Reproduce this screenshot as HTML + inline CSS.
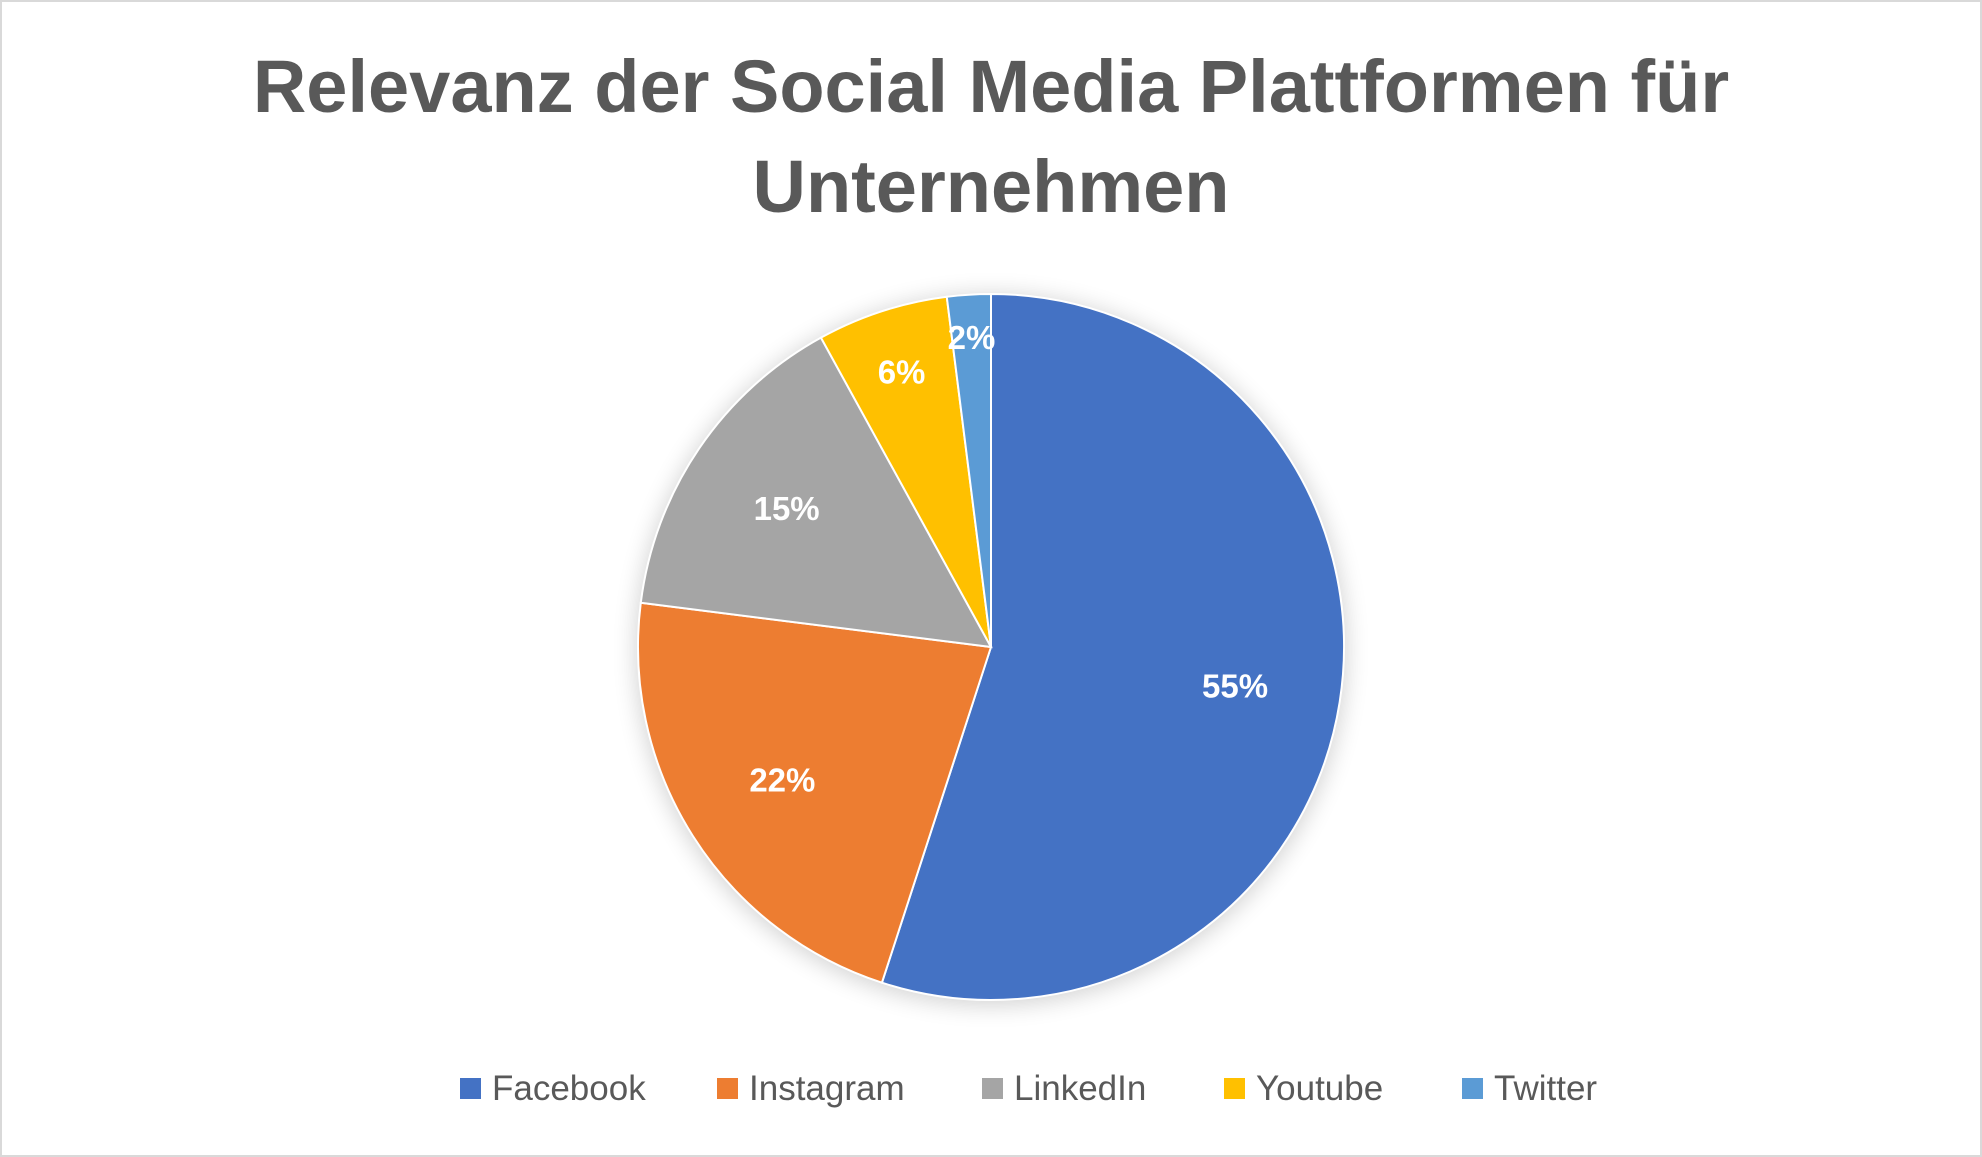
<!DOCTYPE html>
<html><head><meta charset="utf-8"><style>
html,body{margin:0;padding:0;background:#fff;}
#wrap{position:relative;width:1982px;height:1157px;overflow:hidden;}
</style></head><body>
<div id="wrap">
<svg id="chart" width="1982" height="1157" xmlns="http://www.w3.org/2000/svg">
<defs>
<filter id="sh" x="-20%" y="-20%" width="140%" height="140%"><feGaussianBlur stdDeviation="12"/></filter>
</defs>
<rect x="1" y="1" width="1980" height="1155" fill="#fff" stroke="#d9d9d9" stroke-width="2"/>
<text x="991" y="112" text-anchor="middle" font-family="'Liberation Sans',sans-serif" font-weight="bold" font-size="74" fill="#595959">Relevanz der Social Media Plattformen für</text>
<text x="991" y="212" text-anchor="middle" font-family="'Liberation Sans',sans-serif" font-weight="bold" font-size="74" fill="#595959">Unternehmen</text>
<circle cx="991" cy="650" r="355" fill="#000" opacity="0.18" filter="url(#sh)"/>
<g id="slices"></g>
<g id="labels"></g>
<g id="legend"></g>
</svg>
</div>
<script>
const categories = ["Facebook","Instagram","LinkedIn","Youtube","Twitter"];
const values = [55,22,15,6,2];
const valueLabels = ["55%","22%","15%","6%","2%"];
const colors = ["#4472C4","#ED7D31","#A5A5A5","#FFC000","#5B9BD5"];
const NS="http://www.w3.org/2000/svg";
const cx=991, cy=647, r=353;
const total=values.reduce((a,b)=>a+b,0);
function angleOf(v){return v/total*2*Math.PI;}
function pt(a,rad){return [cx+rad*Math.sin(a), cy-rad*Math.cos(a)];}
const slices=document.getElementById('slices');
const labels=document.getElementById('labels');
let a0=0;
values.forEach((v,i)=>{
  const a1=a0+angleOf(v);
  const p0=pt(a0,r), p1=pt(a1,r);
  const large=(a1-a0)>Math.PI?1:0;
  const path=document.createElementNS(NS,'path');
  path.setAttribute('d',`M${cx},${cy} L${p0[0]},${p0[1]} A${r},${r} 0 ${large} 1 ${p1[0]},${p1[1]} Z`);
  path.setAttribute('fill',colors[i]);
  path.setAttribute('stroke','#fff');
  path.setAttribute('stroke-width','2');
  
  
  slices.appendChild(path);
  const mid=(a0+a1)/2;
  const lr = v<5 ? r*0.88 : (v<10 ? r*0.82 : r*0.7);
  const lp=pt(mid,lr);
  const t=document.createElementNS(NS,'text');
  t.setAttribute('x',lp[0]); t.setAttribute('y',lp[1]+12);
  t.setAttribute('text-anchor','middle');
  t.setAttribute('font-family',"'Liberation Sans',sans-serif");
  t.setAttribute('font-weight','bold');
  t.setAttribute('font-size','33');
  t.setAttribute('fill','#fff');
  t.textContent=valueLabels[i];
  
  
  labels.appendChild(t);
  a0=a1;
});
const legend=document.getElementById('legend');
const lx=[460,717,982,1224,1462];
categories.forEach((c,i)=>{
  const g=document.createElementNS(NS,'g');
  
  
  const s=document.createElementNS(NS,'rect');
  s.setAttribute('x',lx[i]); s.setAttribute('y',1078);
  s.setAttribute('width',21); s.setAttribute('height',21);
  s.setAttribute('fill',colors[i]);
  
  
  const t=document.createElementNS(NS,'text');
  t.setAttribute('x',lx[i]+32); t.setAttribute('y',1100);
  t.setAttribute('font-family',"'Liberation Sans',sans-serif");
  t.setAttribute('font-size','35');
  t.setAttribute('fill','#595959');
  t.textContent=c;
  
  
  g.appendChild(s); g.appendChild(t);
  legend.appendChild(g);
});
</script>
</body></html>
